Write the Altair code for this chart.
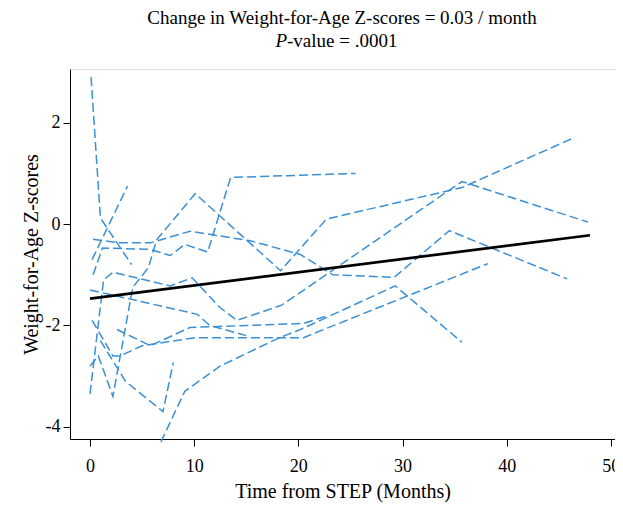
import altair as alt
import pandas as pd

# Each subject: months since STEP and weight-for-age z-scores
t01 = [0.1, 1.0, 4.0]
z01 = [2.9, 0.12, -0.8]
t02 = [0.2, 3.6]
z02 = [-0.7, 0.75]
t03 = [0.0, 0.8, 2.2, 4.1, 5.6, 6.4, 10.1, 18.3, 22.7, 35.7, 46.3]
z03 = [-2.8, -2.6, -3.4, -1.25, -0.86, -0.31, 0.6, -0.92, 0.1, 0.72, 1.69]
t04 = [0.3, 1.2, 5.8, 7.7, 9.1, 11.3, 13.5, 25.5]
z04 = [-1.0, -0.47, -0.5, -0.62, -0.4, -0.55, 0.92, 1.0]
t05 = [1.0, 3.4, 7.0, 8.0]
z05 = [-2.3, -3.1, -3.7, -2.73]
t06 = [0.3, 2.9, 5.8, 9.6, 15.4, 20.2, 23.3, 29.2, 34.5, 45.8]
z06 = [-0.3, -0.37, -0.37, -0.14, -0.33, -0.6, -1.0, -1.05, -0.13, -1.08]
t07 = [0.0, 10.3, 11.5, 15.0]
z07 = [-1.3, -1.78, -2.0, -2.2]
t08 = [0.0, 1.3, 2.2, 7.7, 9.8, 12.5, 14.1, 18.4, 35.7, 47.8]
z08 = [-3.35, -1.1, -0.95, -1.22, -1.06, -1.65, -1.9, -1.6, 0.84, 0.04]
t09 = [2.6, 5.8, 9.6, 20.5, 22.9]
z09 = [-2.08, -2.4, -2.04, -1.96, -1.8]
t10 = [0.2, 2.2, 2.9, 5.0, 10.1, 20.5, 38.2]
z10 = [-1.9, -2.6, -2.6, -2.4, -2.24, -2.24, -0.78]
t11 = [6.8, 9.1, 12.5, 18.2, 20.2, 29.3, 35.7]
z11 = [-4.3, -3.3, -2.8, -2.24, -2.08, -1.22, -2.33]

subjects = [(t01, z01), (t02, z02), (t03, z03), (t04, z04), (t05, z05), (t06, z06),
            (t07, z07), (t08, z08), (t09, z09), (t10, z10), (t11, z11)]

# fitted trend line
fit_t = [0.0, 48.0]
fit_z = [-1.47, -0.22]

x_ticks = [0, 10, 20, 30, 40, 50]
y_ticks = [-4, -2, 0, 2]

rows = []
for i, (ts, zs) in enumerate(subjects):
    for j, (t, z) in enumerate(zip(ts, zs)):
        rows.append({"id": i, "seq": j, "t": t, "z": z})
df = pd.DataFrame(rows)
fit_df = pd.DataFrame({"t": fit_t, "z": fit_z})

FONT = "Liberation Serif"
xs = alt.Scale(domain=[-1.92, 50.4], nice=False, zero=False)
ys = alt.Scale(domain=[-4.24, 3.06], nice=False, zero=False)

xenc = alt.X("t:Q", scale=xs, title="Time from STEP (Months)",
             axis=alt.Axis(values=x_ticks, grid=False, tickSize=7, labelFontSize=18,
                           titleFontSize=20, labelPadding=11, titlePadding=6,
                           labelFont=FONT, titleFont=FONT, labelColor="black",
                           titleColor="black", domainColor="black", tickColor="black",
                           titleFontWeight="normal", labelFlush=False,
                           labelExpr="'' + datum.value"))
yenc = alt.Y("z:Q", scale=ys, title="Weight-for-Age Z-scores",
             axis=alt.Axis(values=y_ticks, grid=False, tickSize=7, labelFontSize=18,
                           titleFontSize=20, labelPadding=3, titlePadding=4,
                           labelFont=FONT, titleFont=FONT, labelColor="black",
                           titleColor="black", domainColor="black", tickColor="black",
                           titleFontWeight="normal", labelFlush=False,
                           labelExpr="'' + datum.value"))

lines = alt.Chart(df).mark_line(color="#3b8fd3", strokeWidth=1.5, strokeDash=[9, 4]).encode(
    x=xenc, y=yenc, detail="id:N", order="seq:Q")

fit = alt.Chart(fit_df).mark_line(color="black", strokeWidth=2.7).encode(
    x=alt.X("t:Q", scale=xs), y=alt.Y("z:Q", scale=ys))

title1 = alt.Chart(pd.DataFrame({"s": ["Change in Weight-for-Age Z-scores = 0.03 / month"]})).mark_text(
    font=FONT, fontSize=19, color="black", align="center", baseline="alphabetic").encode(
    text="s:N", x=alt.value(272), y=alt.value(-45))
title2a = alt.Chart(pd.DataFrame({"s": ["P"]})).mark_text(
    font=FONT, fontSize=19, fontStyle="italic", color="black", align="right", baseline="alphabetic").encode(
    text="s:N", x=alt.value(217), y=alt.value(-22))
title2b = alt.Chart(pd.DataFrame({"s": ["-value = .0001"]})).mark_text(
    font=FONT, fontSize=19, color="black", align="left", baseline="alphabetic").encode(
    text="s:N", x=alt.value(217), y=alt.value(-22))

chart = alt.layer(lines, fit, title1, title2a, title2b).properties(
    width=545, height=370,
    autosize=alt.AutoSizeParams(type="none"),
    padding={"left": 62, "top": 61, "right": 0, "bottom": 70},
).configure_view(stroke="black", strokeWidth=1.5).configure(background="white")

chart.save("out.html", embed_options={"renderer": "svg", "actions": False})
